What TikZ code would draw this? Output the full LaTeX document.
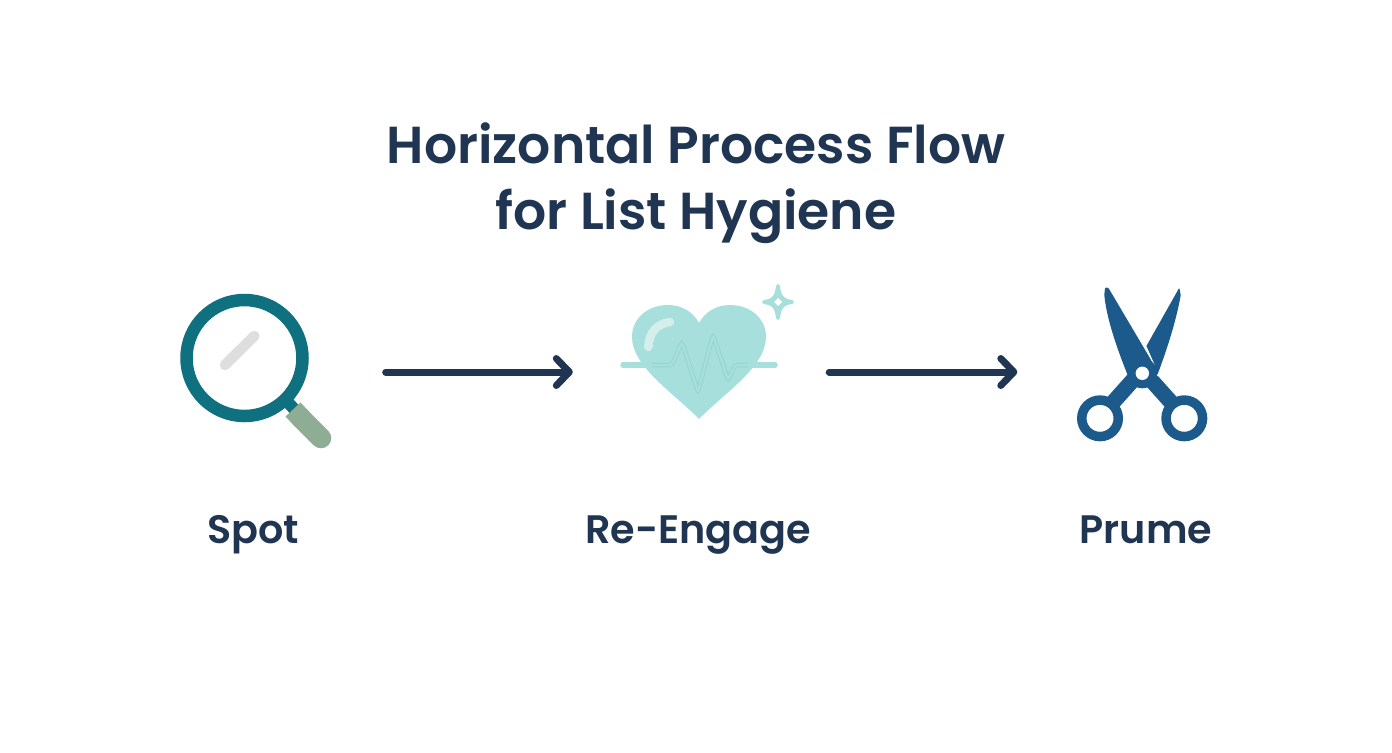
\documentclass[tikz,border=0pt]{standalone}
\usepackage{fontspec}
\setmainfont{Poppins}[BoldFont={Poppins SemiBold}]
\usetikzlibrary{arrows.meta}
\definecolor{inkblue}{HTML}{1F3552}
\definecolor{ringteal}{HTML}{0F7080}
\definecolor{handlegreen}{HTML}{8FAD94}
\definecolor{glaregray}{HTML}{DEDEDE}
\definecolor{heartmint}{HTML}{A6DFDB}
\definecolor{pulseedge}{HTML}{96D5D1}
\definecolor{shinemint}{HTML}{D6EEEB}
\definecolor{scissorblue}{HTML}{1C5A8C}
\tikzset{
  iconslot/.style={inner sep=0pt,minimum height=1.6cm},
  steplabel/.style={text=inkblue,font=\fontsize{11.3}{14}\selectfont\bfseries,anchor=base},
  flowarrow/.style={draw=inkblue,line width=0.07cm,line cap=round,
    -{Straight Barb[length=0.13cm,width=0.27cm,round]}},
  pulseline/.style={rounded corners=0.03cm},
}

\begin{document}
\begin{tikzpicture}[x=1cm,y=1cm]
  \useasboundingbox (0,0) rectangle (13.92,7.52);
  \fill[white] (0,0) rectangle (13.92,7.52);

  % title
  \node[text=inkblue,font=\fontsize{14.8}{18.9}\selectfont\bfseries,align=center] (title) at (6.96,5.69)
    {Horizontal Process Flow\\for List Hygiene};

  % icon slots
  \node[iconslot,minimum width=2.54cm] (spot) at (2.58,3.80) {};
  \node[iconslot,minimum width=2.55cm] (engage) at (7.01,3.80) {};
  \node[iconslot,minimum width=2.48cm] (prune) at (11.42,3.80) {};

  % magnifier
  \draw[ringteal,line width=0.12cm] (2.84,3.54) -- (2.95,3.42);
  \draw[handlegreen,line width=0.205cm] (2.93,3.425) -- (3.02,3.33);
  \draw[handlegreen,line width=0.205cm,line cap=round] (3.00,3.35) -- (3.21,3.14);
  \draw[ringteal,line width=0.125cm] (2.445,3.94) circle (0.58);
  \draw[glaregray,line width=0.105cm,line cap=round] (2.25,3.87) -- (2.543,4.16);

  % heart
  \fill[heartmint] (6.99,3.33)
    .. controls (6.75,3.58) and (6.32,3.85) .. (6.32,4.15)
    .. controls (6.32,4.34) and (6.48,4.47) .. (6.68,4.47)
    .. controls (6.82,4.47) and (6.93,4.40) .. (6.99,4.29)
    .. controls (7.05,4.40) and (7.16,4.47) .. (7.30,4.47)
    .. controls (7.50,4.47) and (7.66,4.34) .. (7.66,4.15)
    .. controls (7.66,3.85) and (7.23,3.58) .. (6.99,3.33) -- cycle;
  \draw[shinemint,line width=0.085cm,line cap=round] (6.483,4.05) .. controls (6.49,4.20) and (6.57,4.28) .. (6.70,4.30);

  % pulse line
  \draw[pulseedge,line width=0.045cm,pulseline] (6.50,3.87) -- (6.72,3.87) -- (6.82,4.10) -- (6.98,3.60) -- (7.13,4.17) -- (7.28,3.72) -- (7.35,3.87) -- (7.50,3.87);
  \draw[heartmint,line width=0.025cm,pulseline] (6.50,3.87) -- (6.72,3.87) -- (6.82,4.10) -- (6.98,3.60) -- (7.13,4.17) -- (7.28,3.72) -- (7.35,3.87) -- (7.50,3.87);
  \draw[heartmint,line width=0.055cm,line cap=round] (6.23,3.87) -- (6.50,3.87);
  \draw[heartmint,line width=0.055cm,line cap=round] (7.50,3.87) -- (7.75,3.87);

  % sparkle
  \draw[heartmint,line width=0.04cm,line join=round,fill=heartmint] (7.78,4.66)
    .. controls (7.79,4.56) and (7.82,4.51) .. (7.92,4.50)
    .. controls (7.82,4.49) and (7.79,4.44) .. (7.78,4.34)
    .. controls (7.77,4.44) and (7.74,4.49) .. (7.64,4.50)
    .. controls (7.74,4.51) and (7.77,4.56) .. (7.78,4.66) -- cycle;
  \fill[white] (7.78,4.54) -- (7.82,4.50) -- (7.78,4.46) -- (7.74,4.50) -- cycle;

  % scissors
  \foreach \xx in {11.00,11.843} {
    \draw[scissorblue,line width=0.095cm] (\xx,3.337) circle (0.1825);
  }
  \draw[scissorblue,line width=0.155cm] (11.133,3.50) -- (11.33,3.72);
  \draw[scissorblue,line width=0.155cm] (11.717,3.49) -- (11.52,3.71);
  \fill[scissorblue,rounded corners=0.01cm] (11.793,4.643) -- (11.46,4.053) -- (11.533,3.87) -- (11.573,3.77)
    .. controls (11.66,4.00) and (11.76,4.30) .. (11.807,4.57) -- cycle;
  \fill[scissorblue,rounded corners=0.01cm] (11.05,4.643) -- (11.083,4.643) -- (11.54,3.87) -- (11.50,3.70) -- (11.283,3.753)
    .. controls (11.20,3.96) and (11.07,4.30) .. (11.043,4.57) -- cycle;
  \draw[white,line width=0.012cm] (11.46,4.053) -- (11.54,3.87);
  \fill[scissorblue] (11.423,3.787) circle (0.15);
  \fill[white] (11.423,3.787) circle (0.067);

  % arrows
  \draw[flowarrow] (spot) -- (engage);
  \draw[flowarrow] (engage) -- (prune);

  % labels
  \node[steplabel] (spotlabel) at (2.53,2.09) {Spot};
  \node[steplabel] (engagelabel) at (6.98,2.09) {Re-Engage};
  \node[steplabel] (prunelabel) at (11.46,2.09) {Prume};
\end{tikzpicture}
\end{document}
